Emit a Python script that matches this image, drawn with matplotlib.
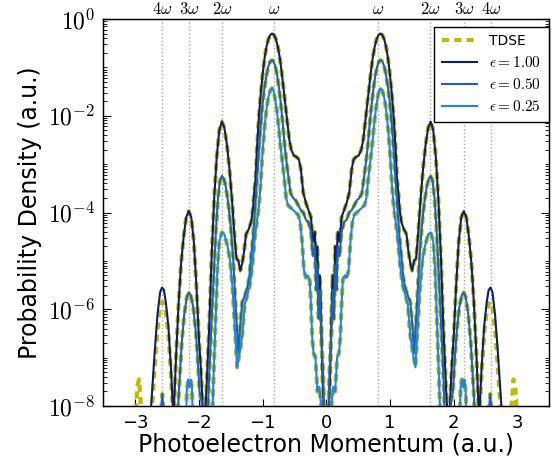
import numpy as np
import matplotlib
matplotlib.use("Agg")
import matplotlib.pyplot as plt
from matplotlib.ticker import FuncFormatter, FixedLocator, NullFormatter

plt.rcParams['font.family'] = ['DejaVu Sans']
plt.rcParams['mathtext.fontset'] = 'cm'

# photon-order positions on the momentum axis
order_pos = [-2.58, -2.16, -1.63, -0.82, 0.82, 1.63, 2.17, 2.59]
order_lbl = [r'$4\omega$', r'$3\omega$', r'$2\omega$', r'$\omega$',
             r'$\omega$', r'$2\omega$', r'$3\omega$', r'$4\omega$']

# positive-momentum half of each spectrum, log10 of the density
p_e100 = [0.00, 0.03, 0.06, 0.08, 0.10, 0.12, 0.14, 0.16, 0.18, 0.21, 0.24, 0.28,
          0.32, 0.36, 0.40, 0.43, 0.47, 0.51, 0.55, 0.58, 0.61, 0.64, 0.67, 0.70,
          0.73, 0.76, 0.79, 0.82, 0.85, 0.88, 0.91, 0.94, 0.97, 1.00, 1.03, 1.06,
          1.09, 1.11, 1.13, 1.15, 1.18, 1.22, 1.26, 1.29, 1.32, 1.35, 1.38, 1.41,
          1.44, 1.48, 1.52, 1.56, 1.60, 1.64, 1.68, 1.72, 1.76, 1.80, 1.84, 1.88,
          1.92, 1.97, 2.00, 2.04, 2.08, 2.12, 2.16, 2.20, 2.24, 2.28, 2.32, 2.36,
          2.40, 2.44, 2.48, 2.52, 2.55, 2.58, 2.61, 2.65, 2.69, 2.73, 2.77, 2.85,
          3.50]
l_e100 = [-9.0, -8.4, -7.4, -6.2, -5.3, -5.9, -4.7, -5.0, -4.4, -4.6, -4.1, -3.95,
          -3.8, -3.6, -3.1, -2.9, -2.85, -2.82, -2.7, -2.5, -2.15, -1.8, -1.45, -1.1,
          -0.8, -0.58, -0.42, -0.33, -0.30, -0.33, -0.42, -0.58, -0.82, -1.15, -1.55, -2.05,
          -2.7, -3.3, -3.55, -3.9, -4.2, -4.35, -4.45, -4.8, -5.05, -5.2, -5.0, -4.95,
          -4.5, -3.75, -3.1, -2.6, -2.25, -2.12, -2.3, -2.85, -3.7, -4.9, -6.4, -7.6,
          -8.6, -7.2, -6.6, -5.5, -4.6, -4.1, -3.97, -4.1, -4.5, -5.05, -5.9, -7.0,
          -8.3, -7.2, -6.35, -5.85, -5.6, -5.55, -5.65, -6.1, -6.8, -7.6, -8.4, -9.0,
          -9.0]

p_e050 = [0.00, 0.03, 0.05, 0.08, 0.10, 0.12, 0.14, 0.16, 0.18, 0.21, 0.24, 0.28,
          0.32, 0.36, 0.40, 0.44, 0.48, 0.52, 0.56, 0.59, 0.62, 0.65, 0.68, 0.71,
          0.74, 0.77, 0.80, 0.83, 0.85, 0.88, 0.91, 0.94, 0.97, 1.00, 1.03, 1.06,
          1.09, 1.12, 1.15, 1.18, 1.21, 1.25, 1.29, 1.32, 1.35, 1.38, 1.42, 1.46,
          1.50, 1.54, 1.58, 1.61, 1.64, 1.67, 1.70, 1.73, 1.76, 1.80, 1.84, 1.87,
          1.92, 1.96, 1.99, 2.02, 2.05, 2.09, 2.13, 2.16, 2.19, 2.23, 2.27, 2.31,
          2.35, 2.50, 2.55, 2.575, 2.60, 2.65, 3.50]
l_e050 = [-9.0, -8.3, -7.3, -6.5, -5.6, -6.2, -5.1, -5.6, -4.7, -4.9, -4.4, -4.2,
          -4.15, -4.0, -3.95, -3.85, -3.75, -3.7, -3.6, -3.3, -3.0, -2.65, -2.2, -1.8,
          -1.45, -1.17, -0.98, -0.87, -0.85, -0.88, -0.98, -1.17, -1.42, -1.75, -2.2, -2.75,
          -3.35, -3.95, -4.5, -4.9, -5.35, -5.6, -5.75, -5.85, -6.3, -6.9, -6.0, -5.0,
          -4.3, -3.8, -3.45, -3.3, -3.24, -3.35, -3.7, -4.3, -5.1, -6.2, -7.4, -8.5,
          -9.0, -7.9, -7.7, -7.0, -6.45, -5.95, -5.7, -5.65, -5.75, -6.1, -6.7, -7.6,
          -8.6, -9.0, -8.2, -7.75, -8.2, -9.0, -9.0]

p_e025 = [0.00, 0.05, 0.08, 0.11, 0.14, 0.17, 0.20, 0.22, 0.24, 0.26, 0.29, 0.32,
          0.35, 0.38, 0.41, 0.44, 0.48, 0.52, 0.56, 0.60, 0.63, 0.66, 0.69, 0.72,
          0.75, 0.78, 0.81, 0.83, 0.85, 0.88, 0.91, 0.94, 0.97, 1.00, 1.03, 1.06,
          1.09, 1.12, 1.16, 1.20, 1.24, 1.28, 1.32, 1.36, 1.40, 1.43, 1.47, 1.51,
          1.55, 1.60, 1.64, 1.68, 1.71, 1.74, 1.77, 1.80, 1.85, 2.08, 2.11, 2.13,
          2.15, 2.17, 2.19, 2.22, 3.50]
l_e025 = [-9.0, -8.6, -8.0, -7.6, -7.7, -7.0, -6.9, -6.6, -5.9, -5.4, -5.3, -5.35,
          -5.2, -4.6, -4.2, -4.05, -4.0, -3.95, -3.9, -3.85, -3.7, -3.3, -2.95, -2.62,
          -2.2, -1.85, -1.6, -1.48, -1.43, -1.48, -1.62, -1.88, -2.25, -2.75, -3.4, -3.9,
          -4.2, -4.5, -5.1, -5.5, -5.7, -5.9, -6.55, -6.9, -7.2, -6.5, -5.6, -5.0,
          -4.7, -4.45, -4.41, -4.6, -5.2, -6.3, -7.4, -8.6, -9.0, -9.0, -7.6, -7.45,
          -7.6, -7.45, -7.7, -9.0, -9.0]

# TDSE deviates from the eps=1.00 model only in the high-momentum tail
p_tdse_tail = [2.40, 2.44, 2.48, 2.52, 2.55, 2.58, 2.61, 2.65, 2.69, 2.73, 2.77,
               2.88, 2.91, 2.94, 2.97, 3.00, 3.03, 3.50]
l_tdse_tail = [-8.3, -7.3, -6.5, -6.05, -5.88, -5.85, -5.95, -6.4, -7.1, -7.9, -8.7,
               -9.0, -8.0, -7.45, -7.6, -8.5, -9.0, -9.0]

eps_labels = [r'$\epsilon=1.00$', r'$\epsilon=0.50$', r'$\epsilon=0.25$']
eps_colors = ['#0c1f68', '#1b62b8', '#1a86e8']
tdse_color = '#bcbc00'


def full_spectrum(p, l):
    p = np.asarray(p)
    l = np.asarray(l)
    x = np.concatenate([-p[::-1], p])
    y = 10.0 ** np.concatenate([l[::-1], l])
    return x, y


cut = p_e100.index(2.40)
p_tdse1 = p_e100[:cut] + p_tdse_tail
l_tdse1 = l_e100[:cut] + l_tdse_tail

models = [(p_e100, l_e100), (p_e050, l_e050), (p_e025, l_e025)]
tdse = [(p_tdse1, l_tdse1), (p_e050, l_e050), (p_e025, l_e025)]

fig = plt.figure(figsize=(5.53, 4.63), dpi=100)
ax = fig.add_axes([0.187, 0.123, 0.806, 0.836])

for xp in order_pos:
    ax.axvline(xp, color='0.65', ls=':', lw=1.0, zorder=1)

for i, (p, l) in enumerate(tdse):
    x, y = full_spectrum(p, l)
    ax.plot(x, y, color=tdse_color, lw=3.0, ls=(0, (1.7, 1.25)),
            label='TDSE' if i == 0 else None, zorder=2)

for (p, l), lab, col in zip(models, eps_labels, eps_colors):
    x, y = full_spectrum(p, l)
    ax.plot(x, y, color=col, lw=1.5, label=lab, zorder=3)

ax.set_yscale('log')
ax.set_xlim(-3.5, 3.5)
ax.set_ylim(1e-8, 1e0)
ax.set_xticks([-3, -2, -1, 0, 1, 2, 3])
ax.set_xticklabels(['\u22123', '\u22122', '\u22121', '0', '1', '2', '3'])

# labelled decades every 100x, the rest as minor ticks
major_dec = [1e0, 1e-2, 1e-4, 1e-6, 1e-8]
minor_dec = []
for e in range(-8, 0):
    for m in range(1, 10):
        v = m * 10.0 ** e
        if v not in major_dec:
            minor_dec.append(v)
ax.yaxis.set_major_locator(FixedLocator(major_dec))
ax.yaxis.set_major_formatter(FuncFormatter(lambda v, pos: r'$10^{%d}$' % round(np.log10(v))))
ax.yaxis.set_minor_locator(FixedLocator(minor_dec))
ax.yaxis.set_minor_formatter(NullFormatter())

ax.tick_params(axis='both', which='both', direction='in', top=True, right=True)
ax.tick_params(axis='x', which='major', labelsize=13, length=5, pad=6)
ax.tick_params(axis='y', which='major', labelsize=17, length=6, pad=6)
ax.tick_params(axis='y', which='minor', length=3)
for s in ax.spines.values():
    s.set_linewidth(1.0)

ax.set_xlabel('Photoelectron Momentum (a.u.)', fontsize=17, labelpad=0)
ax.set_ylabel('Probability Density (a.u.)', fontsize=17, labelpad=4)

top = ax.twiny()
top.set_xlim(ax.get_xlim())
top.set_xticks(order_pos)
top.set_xticklabels(order_lbl, fontsize=12)
top.tick_params(axis='x', length=0, pad=1)

leg = ax.legend(loc='upper right', bbox_to_anchor=(1.0, 0.98), fontsize=11,
                frameon=True, fancybox=False, framealpha=1.0, borderaxespad=0.0,
                handlelength=2.3, labelspacing=0.45, borderpad=0.5)
leg.get_frame().set_edgecolor('black')
leg.get_frame().set_linewidth(1.0)
for t in leg.get_texts()[:1]:
    t.set_fontsize(10)

fig.savefig('out.png', dpi=100)
